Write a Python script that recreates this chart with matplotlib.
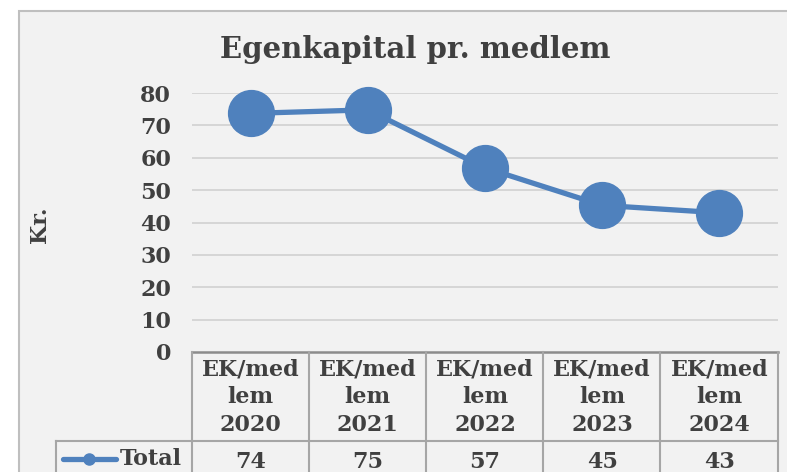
import matplotlib.pyplot as plt
from matplotlib.patches import Rectangle
from matplotlib.lines import Line2D
from matplotlib.transforms import blended_transform_factory

# data
categories = ["EK/med\nlem\n2020", "EK/med\nlem\n2021", "EK/med\nlem\n2022",
              "EK/med\nlem\n2023", "EK/med\nlem\n2024"]
values = [73.7, 74.8, 56.9, 45.3, 43.0]
series_name = "Total"
yticks = [0, 10, 20, 30, 40, 50, 60, 70, 80]

W, H = 787, 472
blue = "#4F81BD"
txt = "#404040"
fs = 16
plt.rcParams['font.family'] = ['DejaVu Serif']
plt.rcParams['font.weight'] = 'bold'

fig = plt.figure(figsize=(W / 100, H / 100), dpi=100, facecolor="white")


def fx(x):
    return x / W


def fy(y):
    return 1 - y / H


# chart area
fig.patches.append(Rectangle((fx(19), fy(480)), fx(800) - fx(19), fy(11) - fy(480),
                             transform=fig.transFigure, facecolor="#F2F2F2",
                             edgecolor="#BFBFBF", linewidth=1.5, zorder=-5))

ax = fig.add_axes([fx(192), fy(352), fx(778) - fx(192), fy(93) - fy(352)], zorder=2)
ax.set_facecolor("none")
x = list(range(len(values)))
ax.plot(x, values, color=blue, linewidth=3.8, marker="o", markersize=33,
        markerfacecolor=blue, markeredgecolor=blue, zorder=3, clip_on=False)
ax.set_xlim(-0.5, len(values) - 0.5)
ax.set_ylim(0, 80)
ax.set_yticks(yticks)
ax.set_yticklabels([str(v) for v in yticks], fontsize=fs, color=txt)
ax.tick_params(axis="y", length=0, pad=15)
ax.tick_params(axis="x", length=0, labelbottom=False)
for s in ax.spines.values():
    s.set_visible(False)
for v in yticks[1:]:
    ax.axhline(v, color="#D4D4D4", linewidth=1.3, zorder=1)

fig.text(fx(40), fy(225), "Kr.", rotation=90, ha="center", va="center",
         fontsize=fs, color=txt)
fig.text(fx(415), fy(50), "Egenkapital pr. medlem", ha="center", va="center",
         fontsize=21, color=txt, fontweight="bold")

# data table
tr = blended_transform_factory(ax.transData, fig.transFigure)
line_kw = dict(color="#A6A6A6", linewidth=1.5, transform=fig.transFigure)
fig.add_artist(Line2D([fx(192), fx(778)], [fy(352), fy(352)], color="#8C8C8C",
                      linewidth=1.8, transform=fig.transFigure))
for b in [192, 309, 426, 543, 660, 778]:
    fig.add_artist(Line2D([fx(b), fx(b)], [fy(352), fy(480)], **line_kw))
fig.add_artist(Line2D([fx(56), fx(778)], [fy(441), fy(441)], **line_kw))
fig.add_artist(Line2D([fx(56), fx(56)], [fy(441), fy(480)], **line_kw))

for i, (c, v) in enumerate(zip(categories, values)):
    fig.text(i, fy(397), c, transform=tr, ha="center", va="center",
             fontsize=fs, color=txt, linespacing=1.33)
    fig.text(i, fy(462), f"{v:.0f}", transform=tr, ha="center", va="center",
             fontsize=fs, color=txt)

fig.add_artist(Line2D([fx(63), fx(116)], [fy(459), fy(459)], color=blue,
                      linewidth=3.8, solid_capstyle="round", transform=fig.transFigure))
fig.add_artist(Line2D([fx(89)], [fy(459)], color=blue, marker="o", markersize=8,
                      transform=fig.transFigure))
fig.text(fx(151), fy(459), series_name, ha="center", va="center",
         fontsize=fs, color=txt)

fig.savefig("out.png", dpi=100, facecolor="white")
